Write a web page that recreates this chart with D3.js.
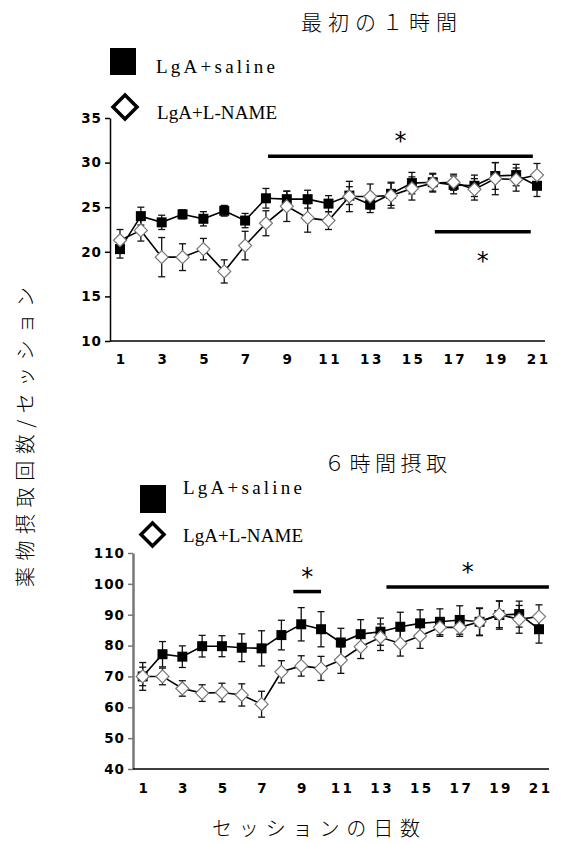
<!DOCTYPE html>
<html>
<head>
<meta charset="utf-8">
<script src="https://cdn.jsdelivr.net/npm/d3@7"></script>
<style>
  body { margin: 0; background: #fff; }
</style>
</head>
<body>
<script>
var WIDTH = 579;
var HEIGHT = 843;

var days = d3.range(1, 22);
var xTickValues = [1, 3, 5, 7, 9, 11, 13, 15, 17, 19, 21];

// first hour
var hour1Saline = [20.3, 24.0, 23.3, 24.2, 23.7, 24.6, 23.5, 26.0, 25.9, 25.9, 25.4, 26.3, 25.3, 26.5, 27.7, 27.8, 27.5, 27.4, 28.5, 28.6, 27.4];
var hour1SalineErr = [1.0, 1.0, 0.8, 0.5, 0.8, 0.6, 0.8, 1.1, 0.9, 1.0, 0.9, 1.0, 0.9, 1.3, 1.2, 1.0, 1.0, 1.2, 1.5, 1.2, 1.2];
var hour1LName = [21.3, 22.4, 19.4, 19.4, 20.3, 17.8, 20.7, 23.2, 25.1, 23.8, 23.5, 26.2, 26.2, 26.3, 27.1, 27.7, 27.8, 27.0, 28.2, 28.1, 28.6];
var hour1LNameErr = [1.2, 1.2, 2.2, 1.5, 1.2, 1.3, 1.6, 1.4, 1.7, 1.6, 1.0, 1.7, 1.4, 1.4, 1.3, 1.0, 0.9, 1.2, 1.8, 1.3, 1.3];
var hour1Ticks = [10, 15, 20, 25, 30, 35];
// significance bars: [from day, to day, value, star side]
var hour1Sig = [[8.1, 20.8, 30.7, "above"], [16.1, 20.7, 22.25, "below"]];

// six hours
var hour6Saline = [70.0, 77.2, 76.4, 79.8, 79.8, 79.3, 79.1, 83.4, 86.9, 85.3, 81.0, 83.7, 84.5, 86.1, 87.2, 87.7, 88.3, 87.7, 89.9, 90.2, 85.3];
var hour6SalineErr = [3.0, 4.1, 3.5, 3.5, 3.4, 4.5, 5.7, 4.8, 5.4, 5.7, 4.6, 4.7, 4.4, 4.7, 4.4, 4.2, 4.6, 4.3, 4.6, 4.2, 4.5];
var hour6LName = [70.0, 70.0, 66.1, 64.6, 64.8, 64.0, 61.0, 71.5, 73.4, 72.6, 75.3, 79.6, 82.7, 80.7, 83.1, 85.9, 85.9, 87.7, 90.1, 88.5, 89.4];
var hour6LNameErr = [4.5, 2.7, 2.5, 2.7, 3.0, 3.6, 4.2, 3.6, 3.3, 3.9, 4.3, 3.8, 4.3, 4.1, 4.0, 2.9, 2.9, 4.5, 4.3, 4.5, 3.8];
var hour6Ticks = [40, 50, 60, 70, 80, 90, 100, 110];
var hour6Sig = [[8.6, 10.0, 97.5, "above"], [13.3, 21.5, 99.0, "above"]];

var seriesNames = ["LgA+saline", "LgA+L-NAME"];

var svg = d3.select("body")
    .append("svg")
    .attr("width", WIDTH)
    .attr("height", HEIGHT);

var serif = "'Liberation Serif', 'Noto Sans CJK JP', serif";
var cjk = "'Noto Sans CJK JP', sans-serif";
var tickFont = "'DejaVu Sans', sans-serif";

function diamondPath(cx, cy, r) {
    return "M" + cx + "," + (cy - r) + "L" + (cx + r) + "," + cy +
        "L" + cx + "," + (cy + r) + "L" + (cx - r) + "," + cy + "Z";
}

function drawPanel(opt) {
    var x = d3.scaleLinear().domain([1, 21]).range(opt.xRange);
    var y = d3.scaleLinear().domain(opt.yDomain).range(opt.yRange);
    var g = svg.append("g");

    // y axis
    var yAxis = g.append("g")
        .attr("transform", "translate(" + opt.axisX + ",0)")
        .call(d3.axisLeft(y).tickValues(opt.yTicks).tickSize(5).tickSizeOuter(0).tickPadding(3));
    yAxis.select(".domain").attr("stroke", opt.axisColor).attr("stroke-width", opt.axisWidth);
    yAxis.selectAll(".tick line").attr("stroke", opt.axisColor).attr("stroke-width", 1.5);
    yAxis.selectAll(".tick text")
        .attr("font-family", tickFont)
        .attr("font-weight", "bold")
        .attr("font-size", "13.5px")
        .attr("letter-spacing", "1px")
        .attr("fill", "#000");

    // x axis
    var xAxis = g.append("g")
        .attr("transform", "translate(0," + opt.yRange[0] + ")")
        .call(d3.axisBottom(x).tickValues(xTickValues).tickSize(0).tickPadding(opt.xPad));
    xAxis.select(".domain").remove();
    xAxis.selectAll(".tick text")
        .attr("font-family", tickFont)
        .attr("font-weight", "bold")
        .attr("font-size", "13.5px")
        .attr("letter-spacing", "2.5px")
        .attr("dx", "1.2px")
        .attr("fill", "#000");
    g.append("line")
        .attr("x1", opt.axisX)
        .attr("x2", opt.xEnd)
        .attr("y1", opt.yRange[0])
        .attr("y2", opt.yRange[0])
        .attr("stroke", "#000")
        .attr("stroke-width", 1.5);

    var line = d3.line().x(function(d, i) { return x(days[i]); }).y(function(d) { return y(d); });

    // error bars
    [[opt.saline, opt.salineErr], [opt.lname, opt.lnameErr]].forEach(function(s) {
        var eb = g.append("g").attr("stroke", "#111").attr("stroke-width", 1.3);
        s[0].forEach(function(v, i) {
            var cx = x(days[i]);
            var e = s[1][i];
            eb.append("line").attr("x1", cx).attr("x2", cx).attr("y1", y(v - e)).attr("y2", y(v + e));
            eb.append("line").attr("x1", cx - 3.5).attr("x2", cx + 3.5).attr("y1", y(v - e)).attr("y2", y(v - e));
            eb.append("line").attr("x1", cx - 3.5).attr("x2", cx + 3.5).attr("y1", y(v + e)).attr("y2", y(v + e));
        });
    });

    g.append("path").datum(opt.lname)
        .attr("d", line).attr("fill", "none").attr("stroke", "#000").attr("stroke-width", 1.6);
    g.append("path").datum(opt.saline)
        .attr("d", line).attr("fill", "none").attr("stroke", "#000").attr("stroke-width", 1.6);

    g.selectAll(".sq").data(opt.saline).enter().append("rect")
        .attr("x", function(d, i) { return x(days[i]) - opt.sq / 2; })
        .attr("y", function(d) { return y(d) - opt.sq / 2; })
        .attr("width", opt.sq)
        .attr("height", opt.sq)
        .attr("fill", "#000");

    g.selectAll(".dm").data(opt.lname).enter().append("path")
        .attr("d", function(d, i) { return diamondPath(x(days[i]), y(d), opt.dm); })
        .attr("fill", "#fff")
        .attr("stroke", "#777")
        .attr("stroke-width", 1.2);

    // significance
    opt.sig.forEach(function(s) {
        g.append("line")
            .attr("x1", x(s[0])).attr("x2", x(s[1]))
            .attr("y1", y(s[2])).attr("y2", y(s[2]))
            .attr("stroke", "#000").attr("stroke-width", 3.5);
        g.append("text")
            .attr("x", (x(s[0]) + x(s[1])) / 2)
            .attr("y", s[3] === "above" ? y(s[2]) - 7 : y(s[2]) + 37)
            .attr("text-anchor", "middle")
            .attr("font-family", "'DejaVu Sans', sans-serif")
            .attr("font-size", "24px")
            .attr("fill", "#000")
            .text("*");
    });
}

drawPanel({
    xRange: [120, 537], yDomain: [10, 35], yRange: [341, 118],
    axisX: 110, xEnd: 545, axisColor: "#000", axisWidth: 1.5, xPad: 13,
    yTicks: hour1Ticks, saline: hour1Saline, salineErr: hour1SalineErr,
    lname: hour1LName, lnameErr: hour1LNameErr, sig: hour1Sig, sq: 10, dm: 6.5
});

drawPanel({
    xRange: [142.7, 539], yDomain: [40, 110], yRange: [769, 553],
    axisX: 133, xEnd: 549, axisColor: "#777", axisWidth: 2.5, xPad: 14,
    yTicks: hour6Ticks, saline: hour6Saline, salineErr: hour6SalineErr,
    lname: hour6LName, lnameErr: hour6LNameErr, sig: hour6Sig, sq: 10, dm: 6.5
});

// legends
function drawLegend(sqX, sqY, sqW, sqH, txt1X, txt1Y, dmX, dmY, dmR, txt2X, txt2Y) {
    svg.append("rect").attr("x", sqX).attr("y", sqY).attr("width", sqW).attr("height", sqH).attr("fill", "#000");
    svg.append("text").attr("x", txt1X).attr("y", txt1Y)
        .attr("font-family", serif).attr("font-size", "19px")
        .attr("textLength", 119).attr("lengthAdjust", "spacing")
        .text(seriesNames[0]);
    svg.append("path").attr("d", diamondPath(dmX, dmY, dmR))
        .attr("fill", "#fff").attr("stroke", "#000").attr("stroke-width", 3.5);
    svg.append("text").attr("x", txt2X).attr("y", txt2Y)
        .attr("font-family", serif).attr("font-size", "19px")
        .attr("textLength", 120).attr("lengthAdjust", "spacing")
        .text(seriesNames[1]);
}
drawLegend(110, 48, 26, 27, 156, 73, 125, 107, 12, 157, 119);
drawLegend(140, 485, 26, 28, 183, 494, 152.5, 534.5, 11.5, 183, 542);

// titles
svg.append("text").attr("x", 301).attr("y", 30)
    .attr("font-family", cjk).attr("font-size", "21px").attr("font-weight", 300)
    .attr("textLength", 156).attr("lengthAdjust", "spacing")
    .text("最初の１時間");
svg.append("text").attr("x", 324).attr("y", 471)
    .attr("font-family", cjk).attr("font-size", "21px").attr("font-weight", 300)
    .attr("textLength", 123).attr("lengthAdjust", "spacing")
    .text("６時間摂取");

// axis titles
svg.append("text")
    .attr("transform", "translate(33,437) rotate(-90)")
    .attr("text-anchor", "middle")
    .attr("font-family", cjk).attr("font-size", "20px").attr("font-weight", 300)
    .attr("textLength", 300).attr("lengthAdjust", "spacing")
    .text("薬物摂取回数/セッション");
svg.append("text").attr("x", 212).attr("y", 836)
    .attr("font-family", cjk).attr("font-size", "20px").attr("font-weight", 300)
    .attr("textLength", 208).attr("lengthAdjust", "spacing")
    .text("セッションの日数");
</script>
</body>
</html>
